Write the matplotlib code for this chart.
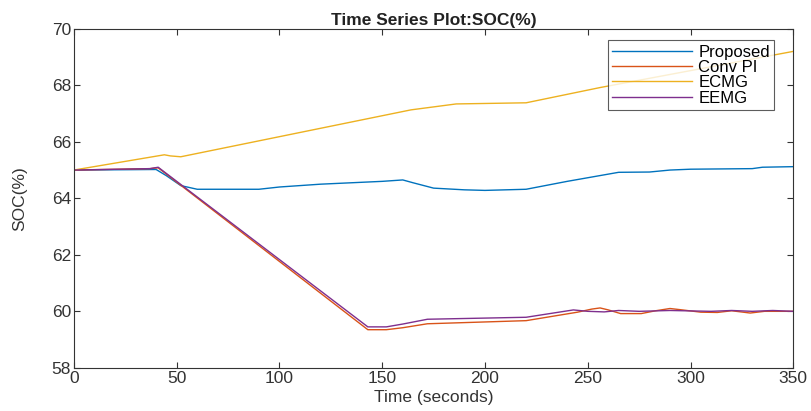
import matplotlib
matplotlib.use("Agg")
import matplotlib.pyplot as plt

plt.rcParams['font.family'] = ['Liberation Sans', 'DejaVu Sans']

# --- data ---
t_prop = [0, 40, 45, 52, 60, 90, 100, 120, 150, 160, 165, 175, 190, 200, 220, 240, 265, 280, 290, 300, 330, 335, 350]
soc_prop = [65.0, 65.02, 64.8, 64.45, 64.32, 64.32, 64.4, 64.5, 64.6, 64.65, 64.55, 64.36, 64.3, 64.28, 64.32, 64.6, 64.92, 64.93, 65.0, 65.03, 65.05, 65.1, 65.12]

t_pi = [0, 37, 41, 143, 152, 160, 172, 220, 245, 252, 256, 260, 266, 276, 283, 290, 296, 305, 313, 320, 329, 336, 350]
soc_pi = [65.0, 65.05, 65.08, 59.35, 59.35, 59.42, 59.56, 59.67, 59.97, 60.08, 60.12, 60.05, 59.92, 59.92, 60.02, 60.1, 60.05, 59.97, 59.96, 60.02, 59.94, 60.0, 60.0]

t_ecmg = [0, 44, 47, 52, 164, 186, 220, 256, 350]
soc_ecmg = [65.0, 65.54, 65.5, 65.47, 67.13, 67.34, 67.38, 67.92, 69.2]

t_eemg = [0, 37, 41, 143, 152, 160, 172, 220, 243, 250, 258, 265, 275, 290, 310, 320, 330, 340, 350]
soc_eemg = [65.0, 65.05, 65.1, 59.45, 59.45, 59.55, 59.72, 59.79, 60.05, 60.0, 59.98, 60.03, 60.0, 60.03, 60.0, 60.03, 60.0, 60.03, 60.0]

labels = ["Proposed", "Conv PI", "ECMG", "EEMG"]
colors = ["#0072BD", "#D95319", "#EDB120", "#7E2F8E"]

fig = plt.figure(figsize=(8.12, 4.11), dpi=100)
ax = fig.add_axes([0.091, 0.105, 0.886, 0.825])

series = [(t_prop, soc_prop), (t_pi, soc_pi), (t_ecmg, soc_ecmg), (t_eemg, soc_eemg)]
for (t, v), lab, c in zip(series, labels, colors):
    ax.plot(t, v, color=c, lw=1.0, label=lab)

ax.set_xlim(0, 350)
ax.set_ylim(58, 70)
ax.set_xticks(range(0, 351, 50))
ax.set_yticks(range(58, 71, 2))
ax.tick_params(direction='in', top=True, right=True, labelsize=12.5, colors='#333333', length=4, pad=2)
for s in ax.spines.values():
    s.set_color('#333333')
    s.set_linewidth(0.8)

ax.set_title("Time Series Plot:SOC(%)", fontsize=12.5, fontweight='bold', pad=3, color='#222222')
ax.set_xlabel("Time (seconds)", fontsize=12.5, labelpad=3, color='#333333')
ax.set_ylabel("SOC(%)", fontsize=12.5, labelpad=18, color='#333333')

leg = ax.legend(loc='upper right', fontsize=12, handlelength=4.8, frameon=True,
                fancybox=False, edgecolor='#333333', borderpad=0.25, labelspacing=0.02,
                handletextpad=0.4, bbox_to_anchor=(0.985, 0.99))
leg.get_frame().set_linewidth(0.8)

fig.savefig("out.png", dpi=100)
